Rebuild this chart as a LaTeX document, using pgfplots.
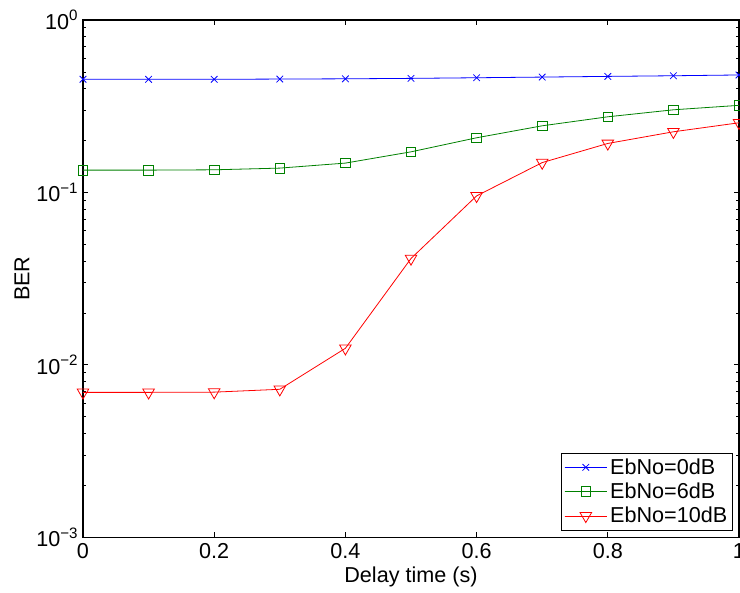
\documentclass[border=0pt]{standalone}
\usepackage{fontspec}
\setmainfont{Liberation Sans}
\usepackage{pgfplots}
\pgfplotsset{compat=1.18}
\definecolor{mblue}{rgb}{0,0,1}
\definecolor{mgreen}{rgb}{0,0.5,0}
\definecolor{mred}{rgb}{1,0,0}
\newcommand\mfont{\fontsize{16.2}{19}\selectfont}
\begin{document}
\begin{tikzpicture}
\begin{axis}[
  scale only axis, width=492pt, height=388pt,
  ymode=log, xmin=0, xmax=1, ymin=1e-3, ymax=1,
  xtick={0,0.2,0.4,0.6,0.8,1}, xticklabels={0,0.2,0.4,0.6,0.8,1},
  ytick={1e-3,1e-2,1e-1,1},
  yticklabels={10\textsuperscript{−3},10\textsuperscript{−2},10\textsuperscript{−1},10\textsuperscript{0}},
  font=\mfont,
  tick label style={font=\mfont},
  xticklabel style={yshift=-1pt},
  xlabel={Delay time (s)}, ylabel={BER},
  every axis x label/.style={at={(axis description cs:0.5,-0.077)}, anchor=center},
  every axis y label/.style={at={(axis description cs:-0.093,0.5)}, anchor=center, rotate=90},
  tick align=inside, major tick length=4pt, minor tick length=2.5pt,
  axis line style={line width=1pt}, tick style={black, line width=0.6pt},
  legend style={at={(0.991,0.013)}, anchor=south east, draw=black, line width=0.8pt,
    font=\mfont, row sep=1pt, inner sep=2pt},
  legend cell align=left,
  legend image code/.code={\draw[#1] (0cm,0cm) -- (1.12cm,0cm); \draw[#1, mark repeat=2, mark phase=2] plot coordinates {(0cm,0cm) (0.56cm,0cm) (1.12cm,0cm)};},
]
\addplot[mblue, line width=0.6pt, mark=x, mark size=3.5pt] coordinates {
(0,0.453) (0.1,0.453) (0.2,0.453) (0.3,0.4545) (0.4,0.456) (0.5,0.4587)
(0.6,0.4625) (0.7,0.4667) (0.8,0.471) (0.9,0.475) (1,0.48)};
\addplot[mgreen, line width=0.6pt, mark=square, mark size=3.6pt, mark options={solid}] coordinates {
(0,0.1347) (0.1,0.1347) (0.2,0.1353) (0.3,0.1384) (0.4,0.148) (0.5,0.172)
(0.6,0.2075) (0.7,0.2435) (0.8,0.2746) (0.9,0.3015) (1,0.32)};
\addplot[mred, line width=0.6pt, mark=triangle, mark size=5pt, mark options={rotate=180}] coordinates {
(0,0.00693) (0.1,0.00693) (0.2,0.00695) (0.3,0.00722) (0.4,0.01248) (0.5,0.0414)
(0.6,0.0955) (0.7,0.149) (0.8,0.1924) (0.9,0.2248) (1,0.2535)};
\legend{EbNo=0dB, EbNo=6dB, EbNo=10dB}
\end{axis}
\pgfresetboundingbox
\useasboundingbox ([xshift=-62.25pt,yshift=-41.25pt]current axis.south west) rectangle ([xshift=0.75pt,yshift=15pt]current axis.north east);
\end{tikzpicture}
\end{document}
